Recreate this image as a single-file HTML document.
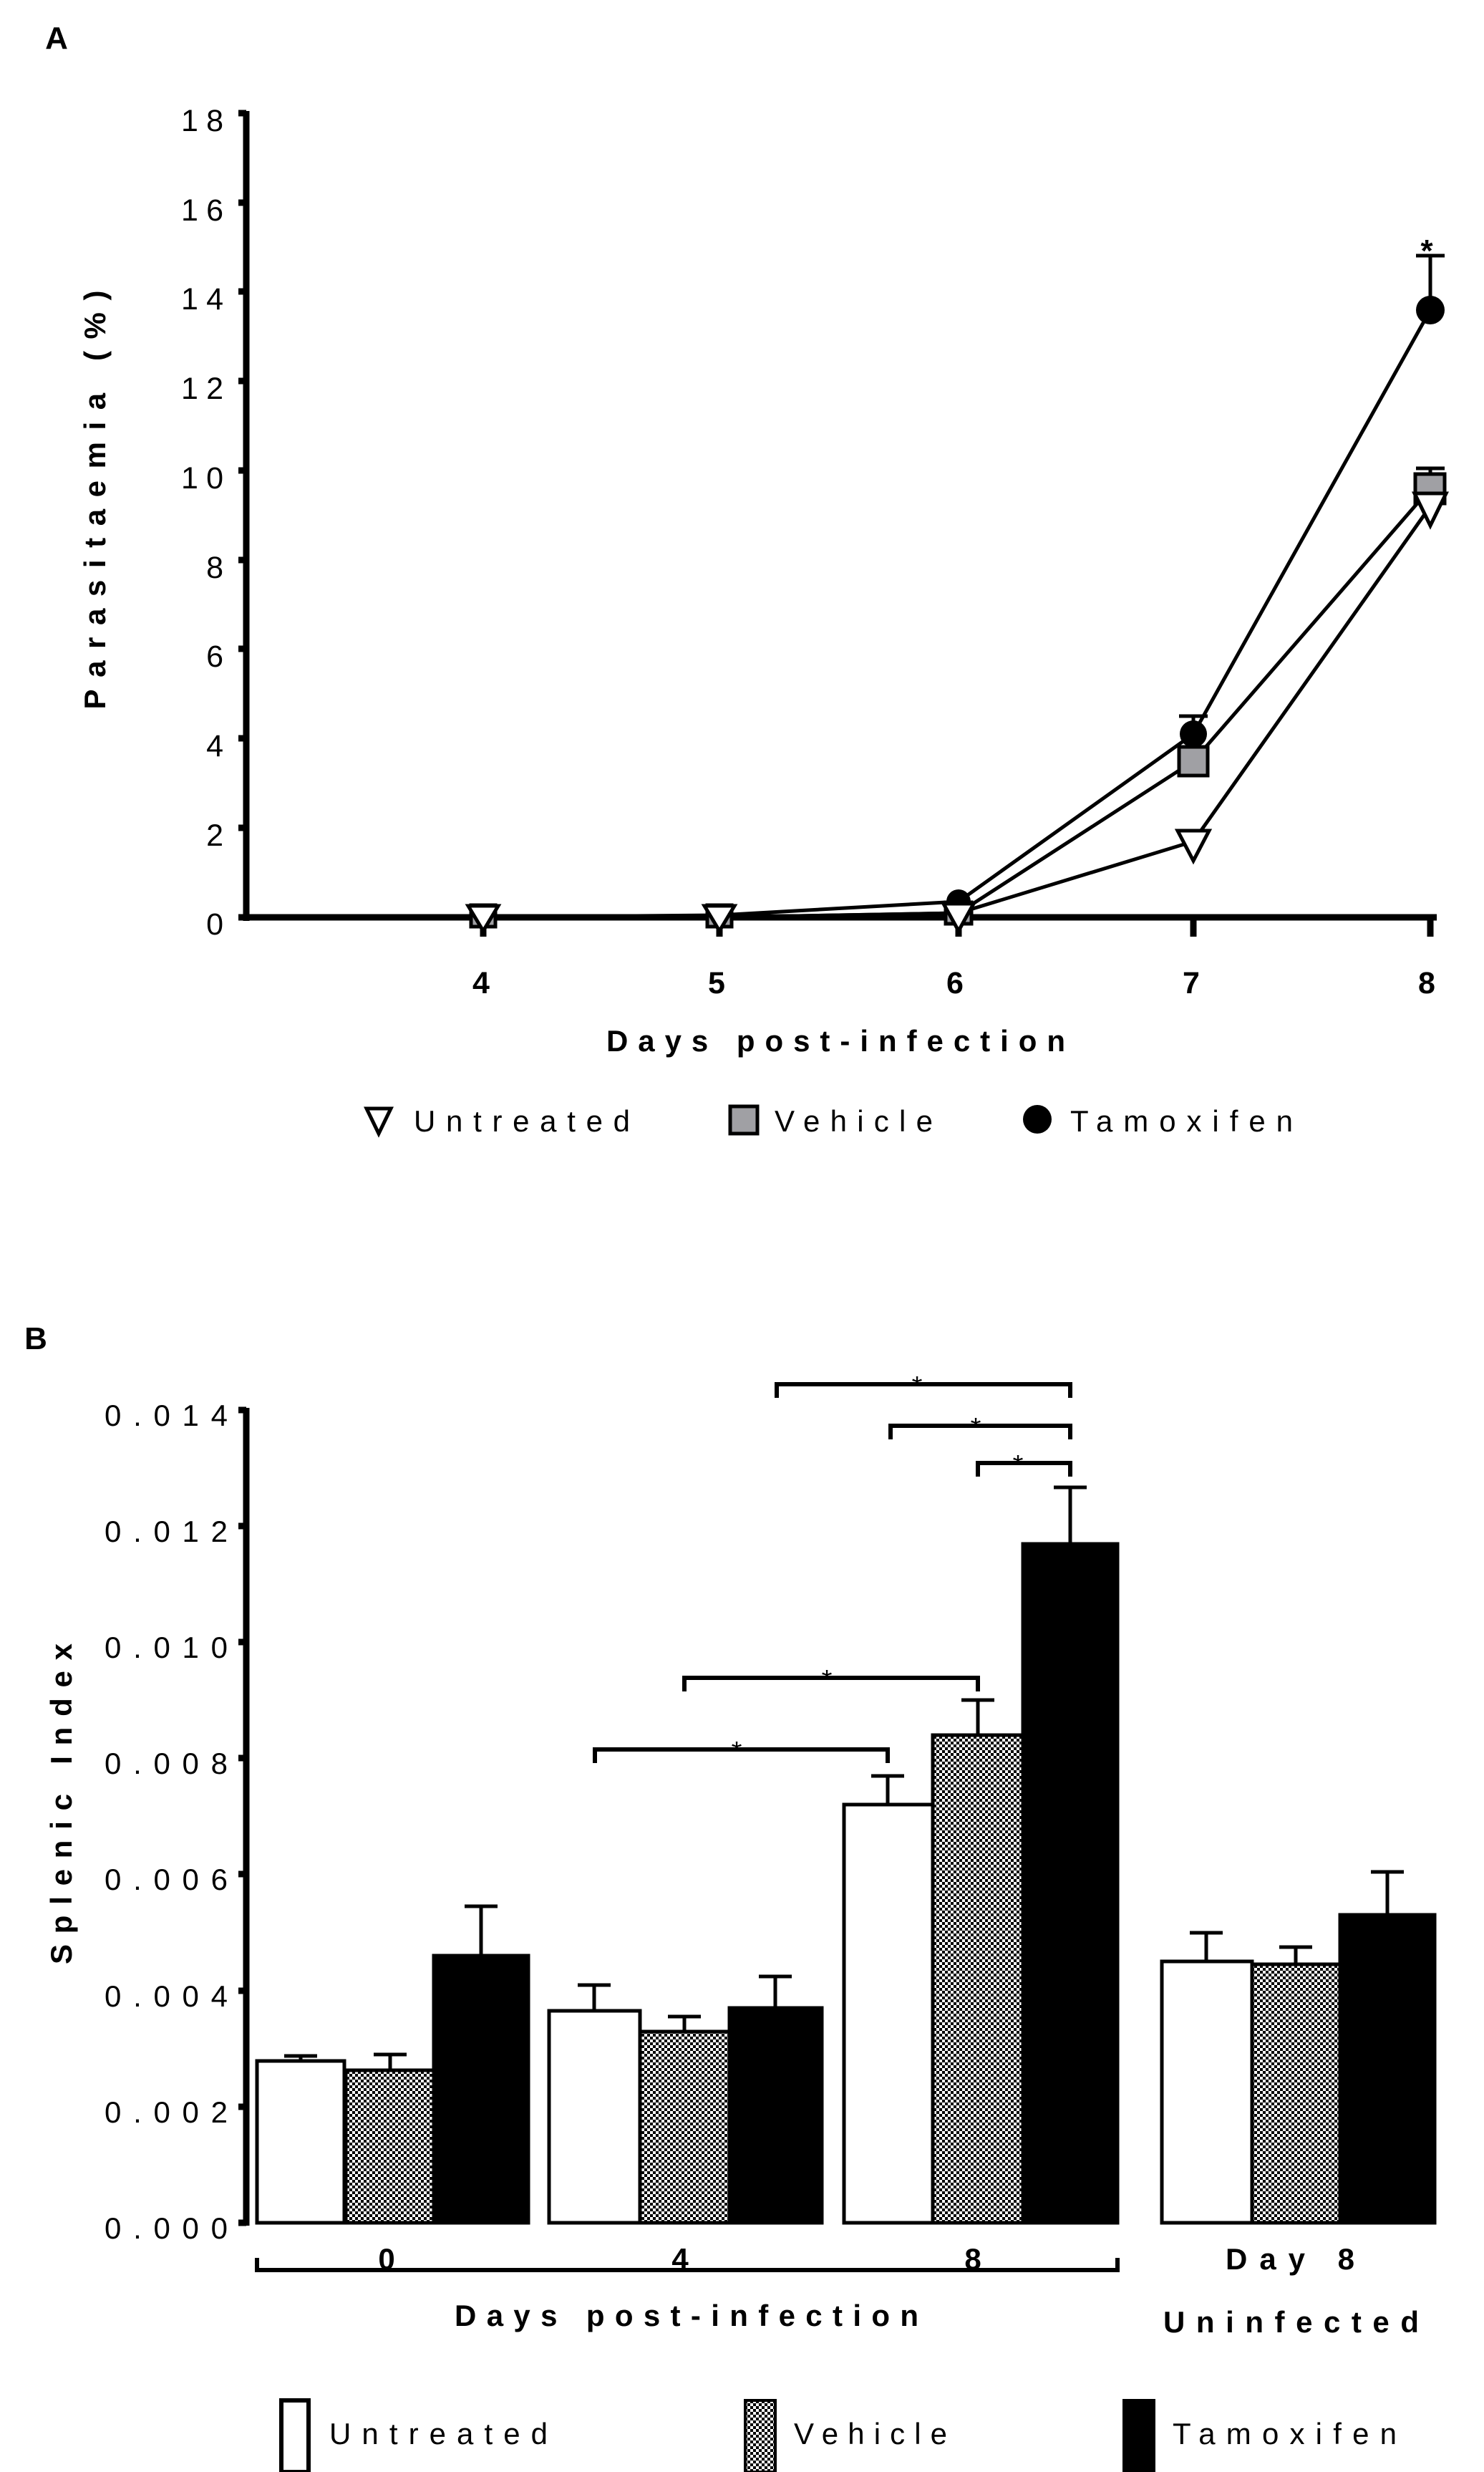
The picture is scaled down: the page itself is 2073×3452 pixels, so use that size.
<!DOCTYPE html>
<html><head><meta charset="utf-8"><style>
html,body{margin:0;padding:0;background:#fff}
svg{display:block}
text{font-family:"Liberation Sans",Arial,sans-serif;fill:#000}
</style></head><body>
<svg width="2073" height="3452" viewBox="0 0 2073 3452" xmlns="http://www.w3.org/2000/svg">
<defs>
<pattern id="chk" width="8" height="8" patternUnits="userSpaceOnUse">
<rect width="8" height="8" fill="#fff"/><rect width="4" height="4" fill="#000"/><rect x="4" y="4" width="4" height="4" fill="#000"/>
</pattern>
</defs>

<!-- ===== Panel A ===== -->
<text x="79" y="68" font-size="44" font-weight="bold" text-anchor="middle">A</text>
<line x1="344" y1="155" x2="344" y2="1286" stroke="#000" stroke-width="9"/>
<g stroke="#000" stroke-width="9">
<line x1="333" y1="158" x2="344" y2="158"/><line x1="333" y1="283" x2="344" y2="283"/>
<line x1="333" y1="407" x2="344" y2="407"/><line x1="333" y1="532" x2="344" y2="532"/>
<line x1="333" y1="657" x2="344" y2="657"/><line x1="333" y1="782" x2="344" y2="782"/>
<line x1="333" y1="906" x2="344" y2="906"/><line x1="333" y1="1031" x2="344" y2="1031"/>
<line x1="333" y1="1156" x2="344" y2="1156"/>
</g>
<g font-size="43" text-anchor="end">
<text x="312" y="183" textLength="59" lengthAdjust="spacing">18</text>
<text x="312" y="308" textLength="59" lengthAdjust="spacing">16</text>
<text x="312" y="432" textLength="59" lengthAdjust="spacing">14</text>
<text x="312" y="557" textLength="59" lengthAdjust="spacing">12</text>
<text x="312" y="682" textLength="59" lengthAdjust="spacing">10</text>
<text x="312" y="807">8</text><text x="312" y="931">6</text>
<text x="312" y="1056">4</text><text x="312" y="1181">2</text><text x="312" y="1305">0</text>
</g>
<line x1="333" y1="1281" x2="2007" y2="1281" stroke="#000" stroke-width="9"/>
<g stroke="#000" stroke-width="9">
<line x1="675" y1="1281" x2="675" y2="1308"/><line x1="1005" y1="1281" x2="1005" y2="1308"/>
<line x1="1339" y1="1281" x2="1339" y2="1308"/><line x1="1667" y1="1281" x2="1667" y2="1308"/>
<line x1="1998" y1="1281" x2="1998" y2="1308"/>
</g>
<g font-size="43" font-weight="bold" text-anchor="middle">
<text x="672" y="1387">4</text><text x="1001" y="1387">5</text><text x="1334" y="1387">6</text>
<text x="1664" y="1387">7</text><text x="1993" y="1387">8</text>
</g>
<text x="847" y="1468" font-size="42" font-weight="bold" textLength="641" lengthAdjust="spacing">Days post-infection</text>
<text transform="translate(147,698) rotate(-90)" font-size="42" font-weight="bold" text-anchor="middle" textLength="585" lengthAdjust="spacing">Parasitaemia (%)</text>

<g fill="none" stroke="#000" stroke-width="5">
<polyline points="675,1281 1005,1281 1339,1275 1667,1175 1998,707"/>
<polyline points="675,1281 1005,1281 1339,1275 1667,1063 1998,682"/>
<polyline points="675,1281 1005,1278 1339,1259 1667,1025 1998,433"/>
</g>
<g stroke="#000" stroke-width="5">
<line x1="1998" y1="433" x2="1998" y2="357"/><line x1="1978" y1="357" x2="2018" y2="357"/>
<line x1="1998" y1="682" x2="1998" y2="654"/><line x1="1978" y1="654" x2="2018" y2="654"/>
<line x1="1667" y1="1025" x2="1667" y2="1000"/><line x1="1647" y1="1000" x2="1687" y2="1000"/>
</g>
<text x="1993" y="365" font-size="44" font-weight="bold" text-anchor="middle">*</text>
<g fill="#000">
<circle cx="1998" cy="433" r="20"/><circle cx="1667" cy="1025" r="19"/>
<circle cx="1339" cy="1259" r="17"/><circle cx="1005" cy="1279" r="15"/><circle cx="675" cy="1281" r="15"/>
</g>
<g fill="#a0a0a4" stroke="#000" stroke-width="5">
<rect x="1977" y="662" width="41" height="41"/><rect x="1647" y="1043" width="40" height="40"/>
<rect x="1321" y="1260" width="36" height="30"/><rect x="988" y="1264" width="34" height="30"/><rect x="658" y="1264" width="34" height="30"/>
</g>
<g fill="#fff" stroke="#000" stroke-width="5">
<polygon points="1976,689 2020,689 1998,734"/>
<polygon points="1645,1160 1689,1160 1667,1202"/>
<polygon points="1318,1262 1360,1262 1339,1300"/>
<polygon points="984,1265 1026,1265 1005,1300"/>
<polygon points="654,1265 696,1265 675,1300"/>
</g>
<polygon points="512,1548 546,1548 529,1583" fill="#fff" stroke="#000" stroke-width="5"/>
<text x="578" y="1580" font-size="42" textLength="302" lengthAdjust="spacing">Untreated</text>
<rect x="1020" y="1545" width="38" height="38" fill="#a0a0a4" stroke="#000" stroke-width="5"/>
<text x="1082" y="1580" font-size="42" textLength="221" lengthAdjust="spacing">Vehicle</text>
<circle cx="1449" cy="1563" r="20" fill="#000"/>
<text x="1495" y="1580" font-size="42" textLength="311" lengthAdjust="spacing">Tamoxifen</text>

<!-- ===== Panel B ===== -->
<text x="50" y="1884" font-size="44" font-weight="bold" text-anchor="middle">B</text>
<line x1="344" y1="1966" x2="344" y2="3108" stroke="#000" stroke-width="9"/>
<g stroke="#000" stroke-width="9">
<line x1="333" y1="1969" x2="344" y2="1969"/><line x1="333" y1="2131" x2="344" y2="2131"/>
<line x1="333" y1="2293" x2="344" y2="2293"/><line x1="333" y1="2455" x2="344" y2="2455"/>
<line x1="333" y1="2617" x2="344" y2="2617"/><line x1="333" y1="2780" x2="344" y2="2780"/>
<line x1="333" y1="2942" x2="344" y2="2942"/><line x1="333" y1="3104" x2="344" y2="3104"/>
</g>
<g font-size="42" text-anchor="end">
<text x="318" y="1991" textLength="172" lengthAdjust="spacing">0.014</text>
<text x="318" y="2153" textLength="172" lengthAdjust="spacing">0.012</text>
<text x="318" y="2315" textLength="172" lengthAdjust="spacing">0.010</text>
<text x="318" y="2477" textLength="172" lengthAdjust="spacing">0.008</text>
<text x="318" y="2639" textLength="172" lengthAdjust="spacing">0.006</text>
<text x="318" y="2802" textLength="172" lengthAdjust="spacing">0.004</text>
<text x="318" y="2964" textLength="172" lengthAdjust="spacing">0.002</text>
<text x="318" y="3126" textLength="172" lengthAdjust="spacing">0.000</text>
</g>
<text transform="translate(100,2519) rotate(-90)" font-size="42" font-weight="bold" text-anchor="middle" textLength="448" lengthAdjust="spacing">Splenic Index</text>

<g stroke="#000" stroke-width="5">
<line x1="420" y1="2878" x2="420" y2="2871"/><line x1="397" y1="2871" x2="443" y2="2871"/>
<line x1="545" y1="2891" x2="545" y2="2869"/><line x1="522" y1="2869" x2="568" y2="2869"/>
<line x1="672" y1="2731" x2="672" y2="2662"/><line x1="649" y1="2662" x2="695" y2="2662"/>
<line x1="830" y1="2808" x2="830" y2="2772"/><line x1="807" y1="2772" x2="853" y2="2772"/>
<line x1="956" y1="2837" x2="956" y2="2816"/><line x1="933" y1="2816" x2="979" y2="2816"/>
<line x1="1083" y1="2804" x2="1083" y2="2760"/><line x1="1060" y1="2760" x2="1106" y2="2760"/>
<line x1="1240" y1="2520" x2="1240" y2="2480"/><line x1="1217" y1="2480" x2="1263" y2="2480"/>
<line x1="1366" y1="2423" x2="1366" y2="2374"/><line x1="1343" y1="2374" x2="1389" y2="2374"/>
<line x1="1495" y1="2156" x2="1495" y2="2077"/><line x1="1472" y1="2077" x2="1518" y2="2077"/>
<line x1="1685" y1="2739" x2="1685" y2="2699"/><line x1="1662" y1="2699" x2="1708" y2="2699"/>
<line x1="1810" y1="2743" x2="1810" y2="2719"/><line x1="1787" y1="2719" x2="1833" y2="2719"/>
<line x1="1938" y1="2674" x2="1938" y2="2614"/><line x1="1915" y1="2614" x2="1961" y2="2614"/>
</g>
<g stroke="#000" stroke-width="5">
<rect x="359" y="2878" width="122" height="226" fill="#fff"/>
<rect x="483" y="2891" width="123" height="213" fill="url(#chk)"/>
<rect x="606" y="2731" width="132" height="373" fill="#000"/>
<rect x="767" y="2808" width="127" height="296" fill="#fff"/>
<rect x="894" y="2837" width="125" height="267" fill="url(#chk)"/>
<rect x="1019" y="2804" width="129" height="300" fill="#000"/>
<rect x="1179" y="2520" width="124" height="584" fill="#fff"/>
<rect x="1303" y="2423" width="126" height="681" fill="url(#chk)"/>
<rect x="1429" y="2156" width="132" height="948" fill="#000"/>
<rect x="1623" y="2739" width="126" height="365" fill="#fff"/>
<rect x="1749" y="2743" width="123" height="361" fill="url(#chk)"/>
<rect x="1872" y="2674" width="132" height="430" fill="#000"/>
</g>
<g fill="none" stroke="#000" stroke-width="6">
<polyline points="1085,1952 1085,1933 1495,1933 1495,1952"/>
<polyline points="1244,2010 1244,1991 1495,1991 1495,2010"/>
<polyline points="1366,2062 1366,2043 1495,2043 1495,2062"/>
<polyline points="956,2362 956,2343 1366,2343 1366,2362"/>
<polyline points="831,2462 831,2443 1240,2443 1240,2462"/>
<polyline points="359,3153 359,3170 1561,3170 1561,3153"/>
</g>
<g font-size="38" text-anchor="middle">
<text x="1281" y="1948">*</text><text x="1363" y="2006">*</text><text x="1422" y="2058">*</text>
<text x="1155" y="2358">*</text><text x="1029" y="2458">*</text>
</g>
<g font-size="42" font-weight="bold" text-anchor="middle">
<text x="540" y="3169">0</text><text x="950" y="3169">4</text><text x="1359" y="3169">8</text>
</g>
<text x="1712" y="3169" font-size="42" font-weight="bold" textLength="180" lengthAdjust="spacing">Day 8</text>
<text x="635" y="3248" font-size="42" font-weight="bold" textLength="648" lengthAdjust="spacing">Days post-infection</text>
<text x="1625" y="3257" font-size="42" font-weight="bold" textLength="357" lengthAdjust="spacing">Uninfected</text>
<rect x="393" y="3352" width="38" height="100" fill="#fff" stroke="#000" stroke-width="6"/>
<text x="460" y="3413" font-size="42" textLength="305" lengthAdjust="spacing">Untreated</text>
<rect x="1041" y="3352" width="42" height="100" fill="url(#chk)" stroke="#000" stroke-width="4"/>
<text x="1109" y="3413" font-size="42" textLength="214" lengthAdjust="spacing">Vehicle</text>
<rect x="1568" y="3350" width="46" height="102" fill="#000"/>
<text x="1638" y="3413" font-size="42" textLength="313" lengthAdjust="spacing">Tamoxifen</text>
</svg>
</body></html>
